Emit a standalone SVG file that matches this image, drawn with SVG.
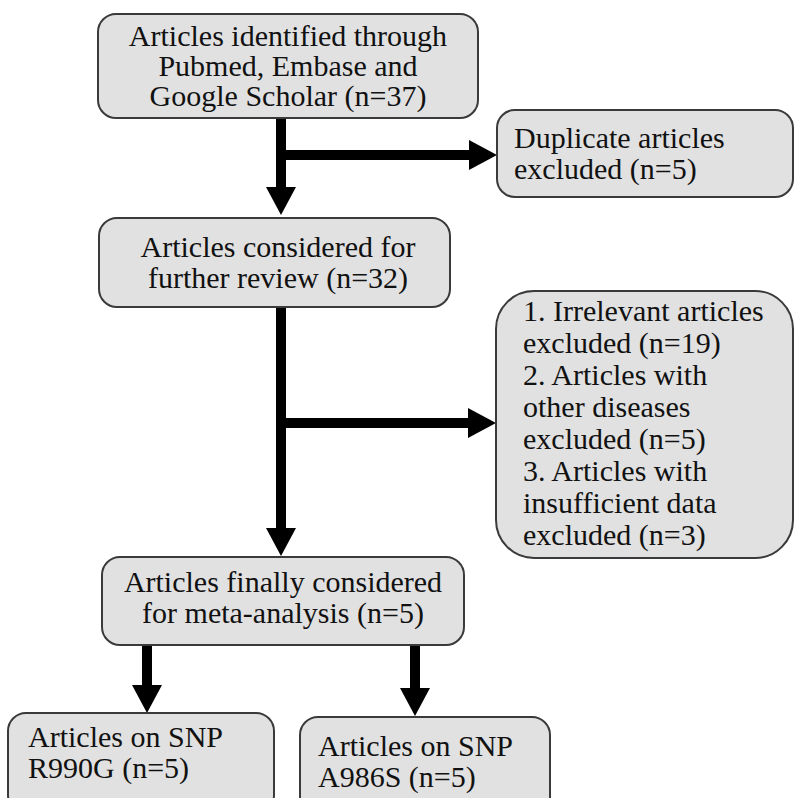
<svg xmlns="http://www.w3.org/2000/svg" width="795" height="798" viewBox="0 0 795 798">
<style>
.box{fill:#e1e1e1;stroke:#3a3a3a;stroke-width:2}
.t{font-family:"Liberation Serif","Times New Roman",serif;font-size:30px;fill:#111}
.c{text-anchor:middle}
.arr{stroke:#000;stroke-width:10;fill:none;marker-end:url(#ah)}
</style>
<defs>
<marker id="ah" markerUnits="userSpaceOnUse" markerWidth="28" markerHeight="30" refX="8" refY="15" orient="auto">
<path d="M0,0 L28,15 L0,30 Z" fill="#000"/>
</marker>
</defs>
<rect width="795" height="798" fill="#fff"/>
<g id="connectors">
<line class="arr" x1="281" y1="118" x2="281" y2="195"/>
<line class="arr" x1="281" y1="155" x2="477" y2="155"/>
<line class="arr" x1="281" y1="307" x2="281" y2="536"/>
<line class="arr" x1="281" y1="423" x2="476" y2="423"/>
<line class="arr" x1="147" y1="645" x2="147" y2="693"/>
<line class="arr" x1="415" y1="645" x2="415" y2="696"/>
</g>
<g id="n1">
<rect class="box" x="98" y="14" width="380" height="104" rx="18"/>
<text class="t c" x="288" y="46">Articles identified through</text>
<text class="t c" x="288" y="76">Pubmed, Embase and</text>
<text class="t c" x="288" y="106">Google Scholar (n=37)</text>
</g>
<g id="n2">
<rect class="box" x="497" y="110" width="296" height="87" rx="18"/>
<text class="t" x="514" y="148">Duplicate articles</text>
<text class="t" x="514" y="179">excluded (n=5)</text>
</g>
<g id="n3">
<rect class="box" x="99" y="218" width="351" height="89" rx="18"/>
<text class="t c" x="278" y="257">Articles considered for</text>
<text class="t c" x="278" y="288">further review (n=32)</text>
</g>
<g id="n4">
<rect class="box" x="496" y="291" width="297" height="267" rx="38"/>
<text class="t" x="523" y="321">1. Irrelevant articles</text>
<text class="t" x="523" y="353">excluded (n=19)</text>
<text class="t" x="523" y="385">2. Articles with</text>
<text class="t" x="523" y="417">other diseases</text>
<text class="t" x="523" y="449">excluded (n=5)</text>
<text class="t" x="523" y="481">3. Articles with</text>
<text class="t" x="523" y="513">insufficient data</text>
<text class="t" x="523" y="545">excluded (n=3)</text>
</g>
<g id="n5">
<rect class="box" x="102" y="557" width="362" height="88" rx="18"/>
<text class="t c" x="283" y="592">Articles finally considered</text>
<text class="t c" x="283" y="623">for meta-analysis (n=5)</text>
</g>
<g id="n6">
<rect class="box" x="8" y="713" width="266" height="100" rx="18"/>
<text class="t" x="28" y="747">Articles on SNP</text>
<text class="t" x="28" y="778">R990G (n=5)</text>
</g>
<g id="n7">
<rect class="box" x="300" y="717" width="250" height="100" rx="18"/>
<text class="t" x="318" y="756">Articles on SNP</text>
<text class="t" x="318" y="787">A986S (n=5)</text>
</g>
</svg>
